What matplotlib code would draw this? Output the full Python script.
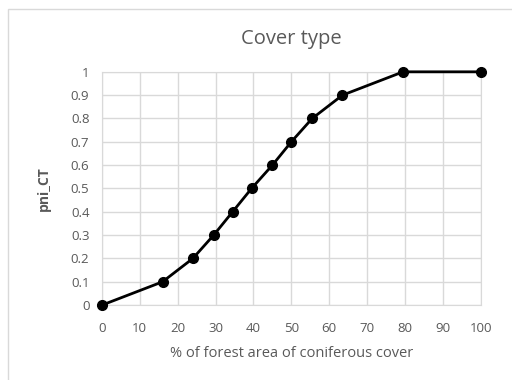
import matplotlib.pyplot as plt
from matplotlib.patches import Rectangle

# coniferous cover (%) vs pni_CT
cover = [0, 16, 24, 29.5, 34.5, 39.5, 45, 50, 55.5, 63.5, 79.5, 100]
pni_ct = [0, 0.1, 0.2, 0.3, 0.4, 0.5, 0.6, 0.7, 0.8, 0.9, 1.0, 1.0]
xticks = list(range(0, 101, 10))
yticks = [0, 0.1, 0.2, 0.3, 0.4, 0.5, 0.6, 0.7, 0.8, 0.9, 1]

plt.rcParams['font.family'] = ['Open Sans', 'DejaVu Sans']

fig = plt.figure(figsize=(5.12, 3.8), dpi=100)
# outer chart-area border (only top and left edges visible)
fig.patches.append(Rectangle((8 / 512, -0.1), 1.2, 1.1 - 9 / 380, transform=fig.transFigure,
                             fill=False, edgecolor='#d9d9d9', linewidth=1))

ax = fig.add_axes([0.199, 0.197, 0.74, 0.614])
ax.plot(cover, pni_ct, color='black', linewidth=2, marker='o', markersize=7, zorder=3,
        clip_on=False)

ax.set_xlim(0, 100)
ax.set_ylim(0, 1)
ax.set_xticks(xticks)
ax.set_yticks(yticks)
ax.set_yticklabels(['0', '0.1', '0.2', '0.3', '0.4', '0.5', '0.6', '0.7', '0.8', '0.9', '1'])
ax.grid(True, color='#d9d9d9', linewidth=1)
ax.set_axisbelow(True)
for s in ax.spines.values():
    s.set_color('#d9d9d9')
ax.tick_params(length=0, colors='#595959', labelsize=9.5)
ax.tick_params(axis='x', pad=12)
ax.tick_params(axis='y', pad=9)

ax.set_title('Cover type', fontsize=14.5, color='#595959', pad=20)
ax.set_xlabel('% of forest area of coniferous cover', fontsize=10.5, color='#595959', labelpad=8)
ax.set_ylabel('pni_CT', fontsize=10, color='#595959', fontweight='bold', labelpad=14)

fig.savefig('out.png', dpi=100)
